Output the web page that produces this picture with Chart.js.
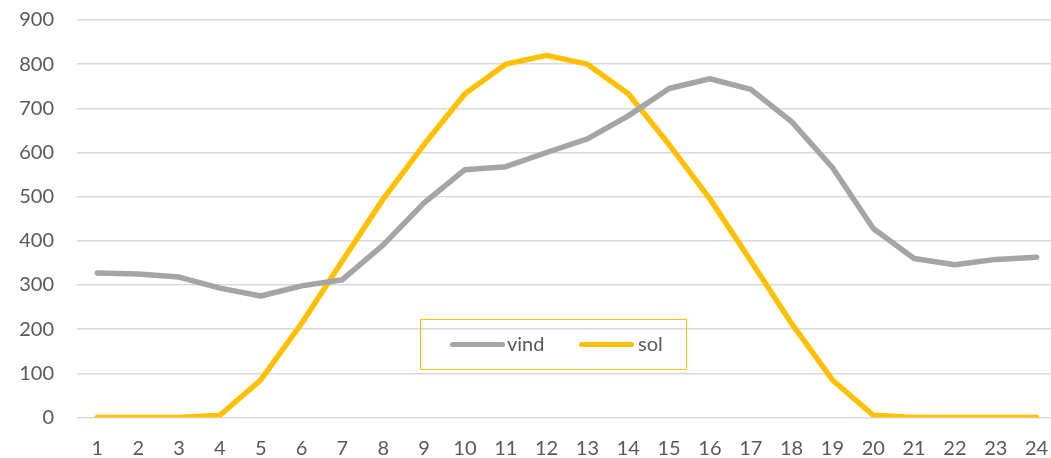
<!DOCTYPE html>
<html>
<head>
<meta charset="utf-8">
<script src="https://cdn.jsdelivr.net/npm/chart.js@4.4.1/dist/chart.umd.min.js"></script>
<style>
  html, body { margin: 0; padding: 0; background: #fff; overflow: hidden; }
  #wrap { position: relative; width: 1057px; height: 458px; }
  #legend {
    position: absolute; left: 420px; top: 319px; width: 265px; height: 49px;
    border: 1.5px solid #FFC000; font-family: Lato, sans-serif; font-size: 20px; color: #595959;
  }
  .item { position: absolute; top: 12px; height: 24px; line-height: 24px; }
  .swatch { position: absolute; top: 10px; width: 55px; height: 5px; border-radius: 3px; }
  .lbl { position: absolute; left: 57px; top: -1px; white-space: nowrap; }
</style>
</head>
<body>
<div id="wrap">
  <canvas id="chart" width="1057" height="458"></canvas>
  <div id="legend">
    <div class="item" style="left:29px"><div class="swatch" style="background:#A5A5A5"></div><span class="lbl">vind</span></div>
    <div class="item" style="left:158px"><div class="swatch" style="background:#FFC000"></div><span class="lbl" style="left:59px">sol</span></div>
  </div>
</div>
<script>
// Data
const hours = ['1','2','3','4','5','6','7','8','9','10','11','12','13','14','15','16','17','18','19','20','21','22','23','24'];
const vind = [327, 325, 318, 293, 275, 298, 312, 391, 486, 561, 568, 600, 631, 683, 745, 767, 743, 670, 566, 428, 360, 346, 358, 363];
const sol = [0, 0, 0, 5, 85, 213, 355, 495, 618, 733, 800, 820, 800, 733, 618, 495, 355, 213, 85, 5, 0, 0, 0, 0];

const ctx = document.getElementById('chart').getContext('2d');
const chart = new Chart(ctx, {
    type: 'line',
    data: {
        labels: hours,
        datasets: [{
            label: 'vind',
            data: vind,
            borderColor: '#A5A5A5',
            borderWidth: 5.5,
            pointRadius: 0,
            tension: 0,
            borderCapStyle: 'round',
            borderJoinStyle: 'round'
        }, {
            label: 'sol',
            data: sol,
            borderColor: '#FFC000',
            borderWidth: 5.5,
            pointRadius: 0,
            tension: 0,
            borderCapStyle: 'round',
            borderJoinStyle: 'round'
        }]
    },
    options: {
        responsive: false,
        animation: false,
        layout: { padding: { top: 20, right: 0, bottom: 0, left: 0 } },
        plugins: {
            legend: { display: false },
            tooltip: { enabled: false }
        },
        scales: {
            y: {
                min: 0,
                max: 900,
                ticks: {
                    stepSize: 100,
                    padding: 0,
                    color: '#595959',
                    font: { family: 'Lato', size: 20 }
                },
                // transparent tick marks push the labels left without extra top padding
                grid: { color: '#D9D9D9', lineWidth: 1.5, drawTicks: true, tickLength: 23, tickColor: 'rgba(0,0,0,0)' },
                border: { display: false },
                afterFit: (scale) => { scale.width = 77; }
            },
            x: {
                offset: true,
                ticks: {
                    padding: 0,
                    color: '#595959',
                    autoSkip: false,
                    maxRotation: 0,
                    font: { family: 'Lato', size: 20 }
                },
                grid: { drawOnChartArea: false, drawTicks: true, tickLength: 19, tickColor: 'rgba(0,0,0,0)', color: 'rgba(0,0,0,0)' },
                border: { display: false },
                afterFit: (scale) => { scale.height = 40.5; }
            }
        }
    }
});
</script>
</body>
</html>
